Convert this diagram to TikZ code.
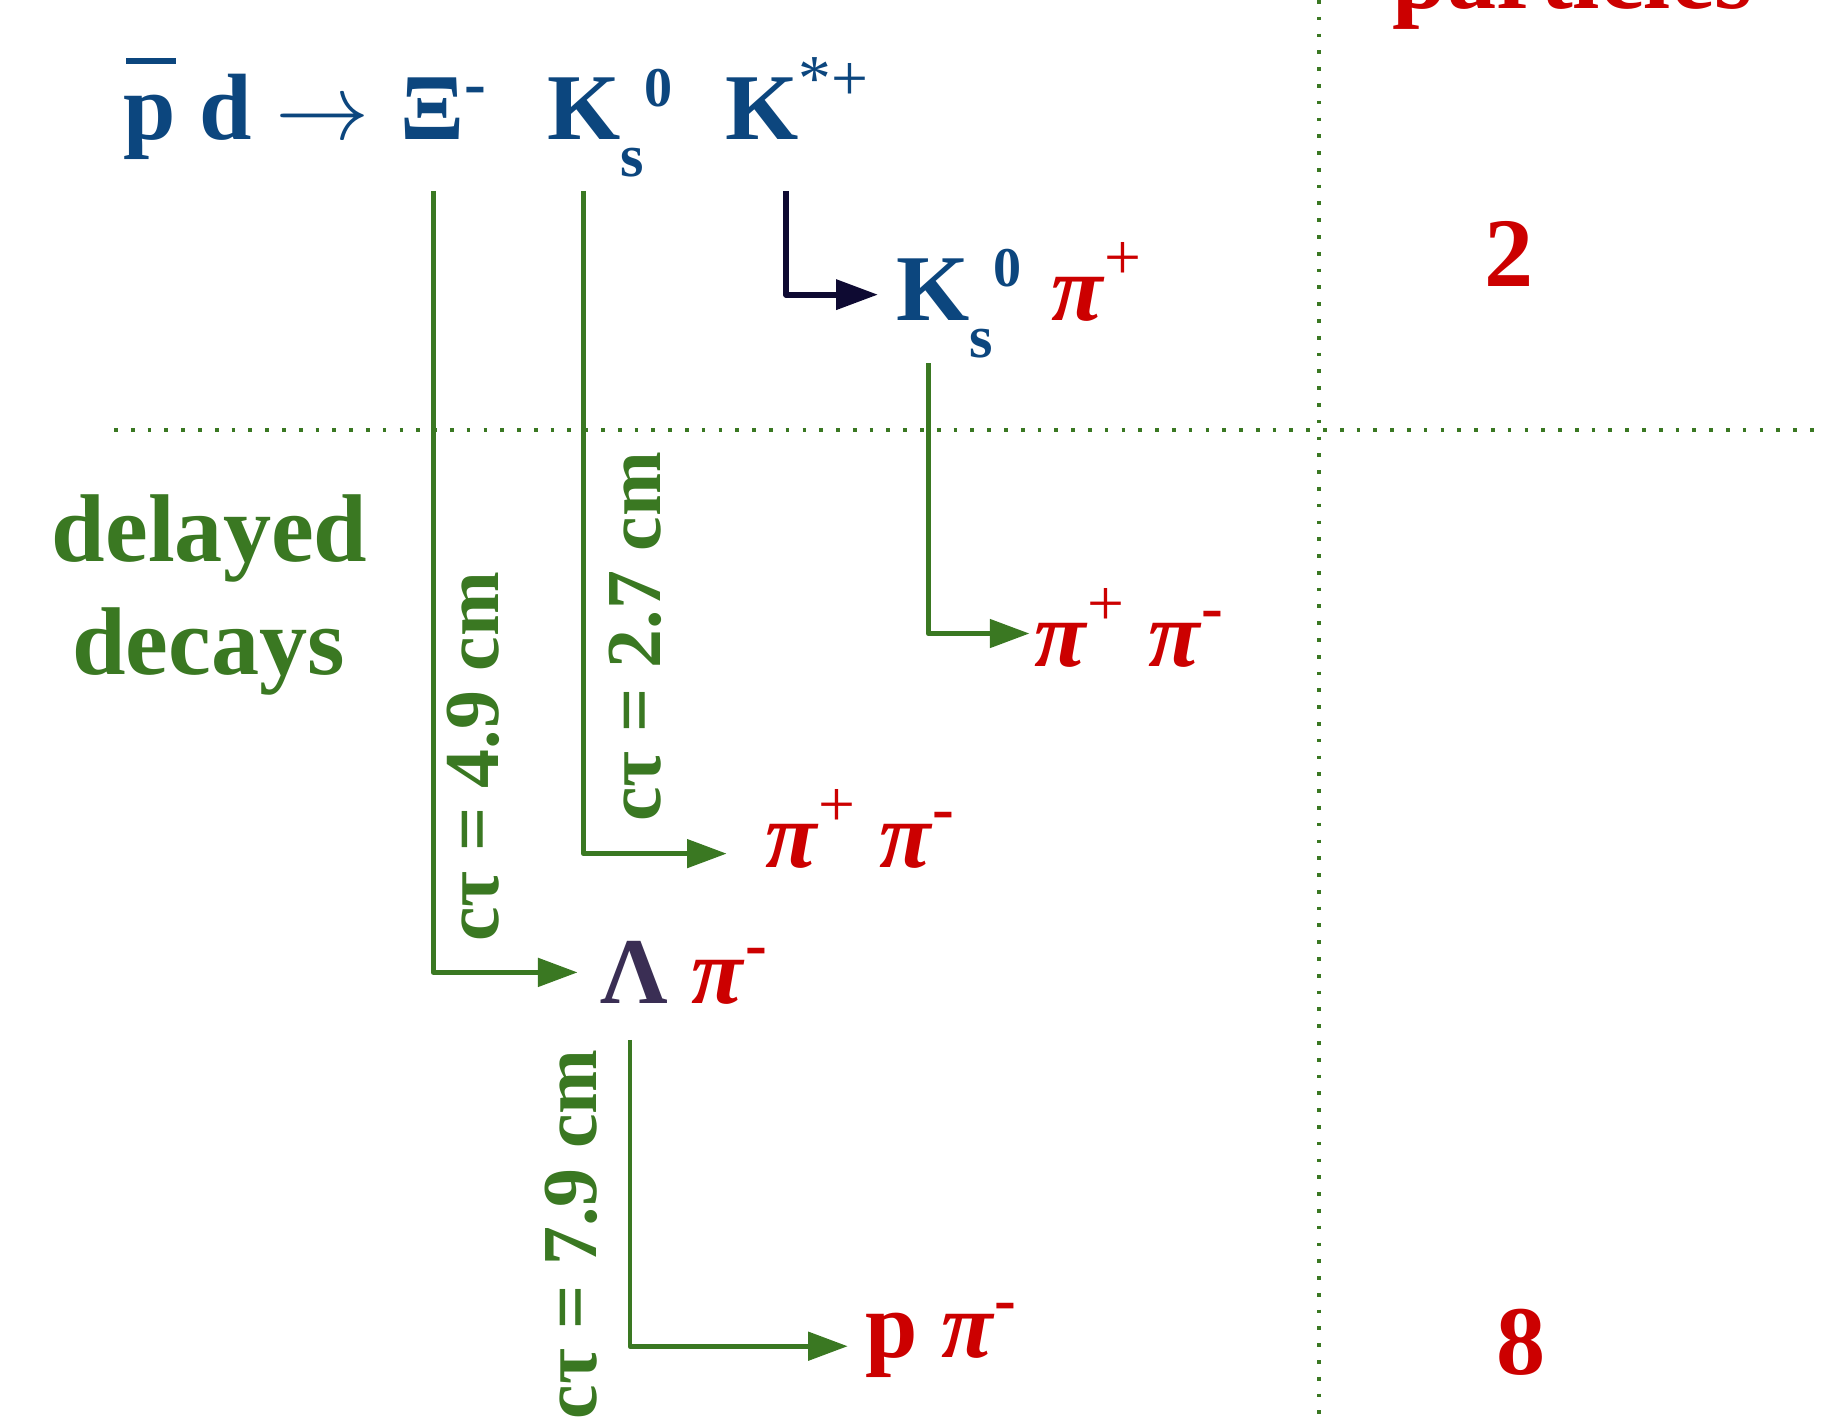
\RequirePackage{fix-cm}
\documentclass[tikz,border=0pt]{standalone}
\usepackage{fontspec}
\setmainfont{Liberation Serif}
\usetikzlibrary{arrows.meta}

\definecolor{navy}{RGB}{12,70,126}
\definecolor{pired}{RGB}{204,0,0}
\definecolor{decgreen}{RGB}{58,120,34}
\definecolor{lamcol}{RGB}{58,46,84}
\definecolor{darkarr}{RGB}{14,10,50}

% raised / lowered index: shift, size, content
\newcommand\idx[3]{\raisebox{#1}{\fontsize{#2}{#2}\selectfont #3}}
\newcommand\pbar{\makebox[0pt][l]{\hspace{0.03em}\rule[18.6pt]{0.53em}{1.4pt}}p}
\newcommand\pim{\textit{π}}
\newcommand\chp{\idx{10pt}{16}{\upshape\mdseries +}}
\newcommand\chm{\idx{9pt}{16}{\upshape -}}
\newcommand\kshort{K\idx{-9pt}{14.7}{s}\idx{8.2pt}{13.7}{0}}

\begin{document}
\begin{tikzpicture}[x=0.01cm,y=-0.01cm,
  every node/.style={inner sep=0pt, outer sep=0pt},
  term/.style={font=\fontsize{23}{27}\selectfont\bfseries, anchor=base west},
  blueterm/.style={term, text=navy},
  redterm/.style={term, text=pired},
  greentxt/.style={font=\fontsize{23.5}{27.6}\selectfont\bfseries, text=decgreen, anchor=base},
  ctlabel/.style={font=\fontsize{19}{22}\selectfont\bfseries, text=decgreen, rotate=90, anchor=base},
  count/.style={font=\fontsize{24}{28}\selectfont\bfseries, text=pired},
  gdecay/.style={draw=decgreen, line width=1.2pt, line join=round,
    -{Triangle[length=0.34cm,width=0.24cm]}},
  sdecay/.style={draw=darkarr, line width=1.5pt, line join=round,
    -{Triangle[length=0.36cm,width=0.25cm]}},
  divider/.style={draw=decgreen, line width=1pt, dash pattern=on 0.9pt off 3.2pt}
]
\useasboundingbox (0,0) rectangle (1568,1220);

% dividing lines
\draw[divider] (98,369) -- (1568,369);
\draw[divider] (1133,0) -- (1133,1217);

% reaction
\node[blueterm] (lhs) at (106,120) {\pbar\ d $\rightarrow$};
\node[blueterm] (xi) at (344,120) {Ξ\idx{8.3pt}{16}{-}};
\node[blueterm] (ks) at (470,120) {\kshort};
\node[blueterm] (kst) at (623,120) {K\idx{9.7pt}{16}{\mdseries *+}};

% strong decay of the K*+
\node[blueterm] (ksb) at (770,275) {\kshort};
\node[redterm] (pipl) at (903,275) {\pim\chp};

% delayed decay products
\node[redterm] (pipiA) at (888,572) {\pim\chp\ \pim\chm};
\node[redterm] (pipiB) at (657,745) {\pim\chp\ \pim\chm};
\node[redterm] (lampi) at (516,862) {\textcolor{lamcol}{Λ} \pim\chm};
\node[redterm] (ppi) at (743,1166) {p \pim\chm};

% decay lengths
\node[ctlabel] (ctxi) at (428,650) {cτ = 4.9 cm};
\node[ctlabel] (ctks) at (567,547) {cτ = 2.7 cm};
\node[ctlabel] (ctlam) at (512,1060) {cτ = 7.9 cm};

% side texts
\node[greentxt] (delA) at (180,482) {delayed};
\node[greentxt] (delB) at (179,579) {decays};
\node[count, anchor=base west] (ptitle) at (1196,7) {particles};
\node[count, anchor=base] (ntwo) at (1296,246) {2};
\node[count, anchor=base] (neight) at (1306,1180) {8};

% connector end points
\coordinate (xiOut) at (372,164);   \coordinate (lamIn) at (496,835);
\coordinate (ksOut) at (501,164);   \coordinate (pipiBIn) at (624,733);
\coordinate (kstOut) at (675,164);  \coordinate (ksbIn) at (754,253);
\coordinate (ksbOut) at (797,312);  \coordinate (pipiAIn) at (884,544);
\coordinate (lamOut) at (541,893);  \coordinate (ppiIn) at (728,1156);

\draw[gdecay] (xiOut) |- (lamIn);
\draw[gdecay] (ksOut) |- (pipiBIn);
\draw[sdecay] (kstOut) |- (ksbIn);
\draw[gdecay] (ksbOut) |- (pipiAIn);
\draw[gdecay] (lamOut) |- (ppiIn);
\end{tikzpicture}
\end{document}
